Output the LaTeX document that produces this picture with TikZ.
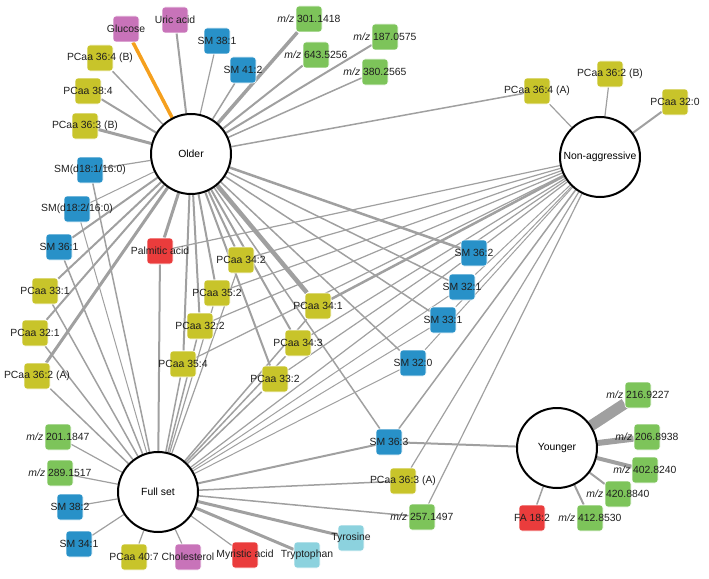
\documentclass[tikz,border=0pt]{standalone}
\usepackage{fontspec}
\setmainfont{Liberation Sans}
\usetikzlibrary{backgrounds}
\definecolor{cgreen}{RGB}{125,196,90}
\definecolor{cyellow}{RGB}{200,196,42}
\definecolor{cblue}{RGB}{40,145,200}
\definecolor{cpink}{RGB}{200,115,185}
\definecolor{cred}{RGB}{234,60,60}
\definecolor{ccyan}{RGB}{140,210,222}
\definecolor{corange}{RGB}{245,160,30}
\definecolor{cedge}{RGB}{160,160,160}
\begin{document}
\begin{tikzpicture}[x=1pt,y=-1pt,
  bx/.style={rectangle, rounded corners=3pt, minimum size=26pt, inner sep=0pt, fill=#1, draw=white, line width=0.6pt},
  lbl/.style={font=\fontsize{10.4}{12}\selectfont, inner sep=0pt, text=black!88},
  grp/.style={circle, minimum size=80pt, inner sep=0pt, draw=black, line width=2pt, fill=white, font=\fontsize{10.4}{12}\selectfont},
  edge/.style={draw=cedge}]
\useasboundingbox (0,0) rectangle (709,578);

% group circles
\node[grp] (older) at (191,154) {Older};
\node[grp] (na) at (600,157) {Non-aggressive};
\node[grp] (full) at (158,492) {Full set};
\node[grp] (young) at (557,448) {Younger};

% metabolite boxes
\foreach \id/\x/\y/\c in {
  glucose/126/29/cpink, uric/175/20/cpink, sm381/217/41/cblue, sm412/243/70/cblue,
  mz301/309/19/cgreen, mz643/316/55/cgreen, mz187/385/37/cgreen, mz380/375/72/cgreen,
  pcb364/100/58/cyellow, pc384/88/91/cyellow, pcb363/85/126/cyellow,
  smda/90/170/cblue, smdb/77/209/cblue, sm361/59/247/cblue,
  palm/160/251/cred, pc342/241/260/cyellow, pc331/45/291/cyellow, pc352/217/293/cyellow,
  pc341/318/306/cyellow, pc322/200/326/cyellow, pc321/35/333/cyellow, pc343/298/343/cyellow,
  pc354/183/364/cyellow, pca362/37/376/cyellow, pc332/275/379/cyellow,
  sm362/474/253/cblue, sm321/462/287/cblue, sm331/443/320/cblue, sm320/413/363/cblue,
  sm363/389/442/cblue, pca363/403/481/cyellow, mz257/422/517/cgreen,
  pca364/537/91/cyellow, pcb362/610/74/cyellow, pc320/675/102/cyellow,
  mz201/58/437/cgreen, mz289/60/473/cgreen, sm382/70/507/cblue, sm341/79/544/cblue,
  pc407/134/557/cyellow, chol/188/557/cpink, myr/245/555/cred, tryp/307/555/ccyan, tyr/351/538/ccyan,
  mz216/638/395/cgreen, mz206/647/437/cgreen, mz402/645/470/cgreen, mz420/618/494/cgreen,
  mz412/590/518/cgreen, fa182/532/518/cred}
  {\node[bx=\c] (\id) at (\x,\y) {};}

% labels
\foreach \id/\t in {
  glucose/Glucose, uric/Uric acid, sm381/SM 38:1, sm412/SM 41:2,
  pcb364/PCaa 36:4 (B), pc384/PCaa 38:4, pcb363/PCaa 36:3 (B),
  smda/SM(d18:1{/}16:0), smdb/SM(d18:2{/}16:0), sm361/SM 36:1,
  palm/Palmitic acid, pc342/PCaa 34:2, pc331/PCaa 33:1, pc352/PCaa 35:2,
  pc341/PCaa 34:1, pc322/PCaa 32:2, pc321/PCaa 32:1, pc343/PCaa 34:3,
  pc354/PCaa 35:4, pca362/PCaa 36:2 (A), pc332/PCaa 33:2,
  sm362/SM 36:2, sm321/SM 32:1, sm331/SM 33:1, sm320/SM 32:0, sm363/SM 36:3,
  pca363/PCaa 36:3 (A), pca364/PCaa 36:4 (A), pcb362/PCaa 36:2 (B), pc320/PCaa 32:0,
  sm382/SM 38:2, sm341/SM 34:1, pc407/PCaa 40:7, chol/Cholesterol,
  myr/Myristic acid, tryp/Tryptophan, tyr/Tyrosine, fa182/FA 18:2}
  {\node[lbl] at (\id) {\t};}
\foreach \id/\t in {
  mz301/301.1418, mz643/643.5256, mz187/187.0575, mz380/380.2565, mz257/257.1497,
  mz201/201.1847, mz289/289.1517, mz216/216.9227, mz206/206.8938, mz402/402.8240,
  mz420/420.8840, mz412/412.8530}
  {\node[lbl] at (\id) {\textit{m/z} \t};}

\begin{pgfonlayer}{background}
% Older
\draw[draw=corange, line width=3.5pt] (older) -- (glucose);
\foreach \id/\w in {uric/2, sm381/1.2, sm412/1.5, mz301/3.5, mz643/2, mz187/2, mz380/1.5,
  pca364/1.5, pcb364/1.5, pc384/2, pcb363/3, smda/1.2, smdb/1, sm361/2, pc331/2, pc321/2,
  pca362/3, palm/3, pc342/2, pc352/2, pc322/2, pc354/2, pc341/4.5, pc343/2, pc332/2,
  sm362/2.5, sm321/1.5, sm331/1.5, sm320/1.5, sm363/1.5}
  {\draw[edge, line width=\w pt] (older) -- (\id);}
% Full set
\foreach \id/\w in {smda/1.5, smdb/1, sm361/1.5, pc331/1.5, pc321/1.5, pca362/1.5, palm/2,
  pc342/1.2, pc352/1.2, pc322/1.5, pc354/1.5, pc341/1.5, pc343/1.5, pc332/1.5, sm362/1.2,
  sm321/1, sm331/1, sm320/1, sm363/2, pca363/1.5, mz257/1.5, mz201/1.2, mz289/1.2,
  sm382/1.2, sm341/1.2, pc407/1.2, chol/1.2, myr/1.2, tryp/3, tyr/3}
  {\draw[edge, line width=\w pt] (full) -- (\id);}
% Non-aggressive
\foreach \id/\w in {pca364/1.2, pcb362/1.2, pc320/2, palm/1.2, pc342/1.2, pc352/1.2,
  pc322/1.2, pc354/1.2, pc341/2.5, pc343/1.2, pc332/1.2, sm362/1.2, sm321/1, sm331/1,
  sm320/1, sm363/1.5, pca363/1.2, mz257/1.2}
  {\draw[edge, line width=\w pt] (na) -- (\id);}
% Younger
\foreach \id/\w in {mz216/11, mz206/6, mz402/4, mz420/2, mz412/2, fa182/1.5, sm363/2}
  {\draw[edge, line width=\w pt] (young) -- (\id);}
\end{pgfonlayer}
\end{tikzpicture}
\end{document}
